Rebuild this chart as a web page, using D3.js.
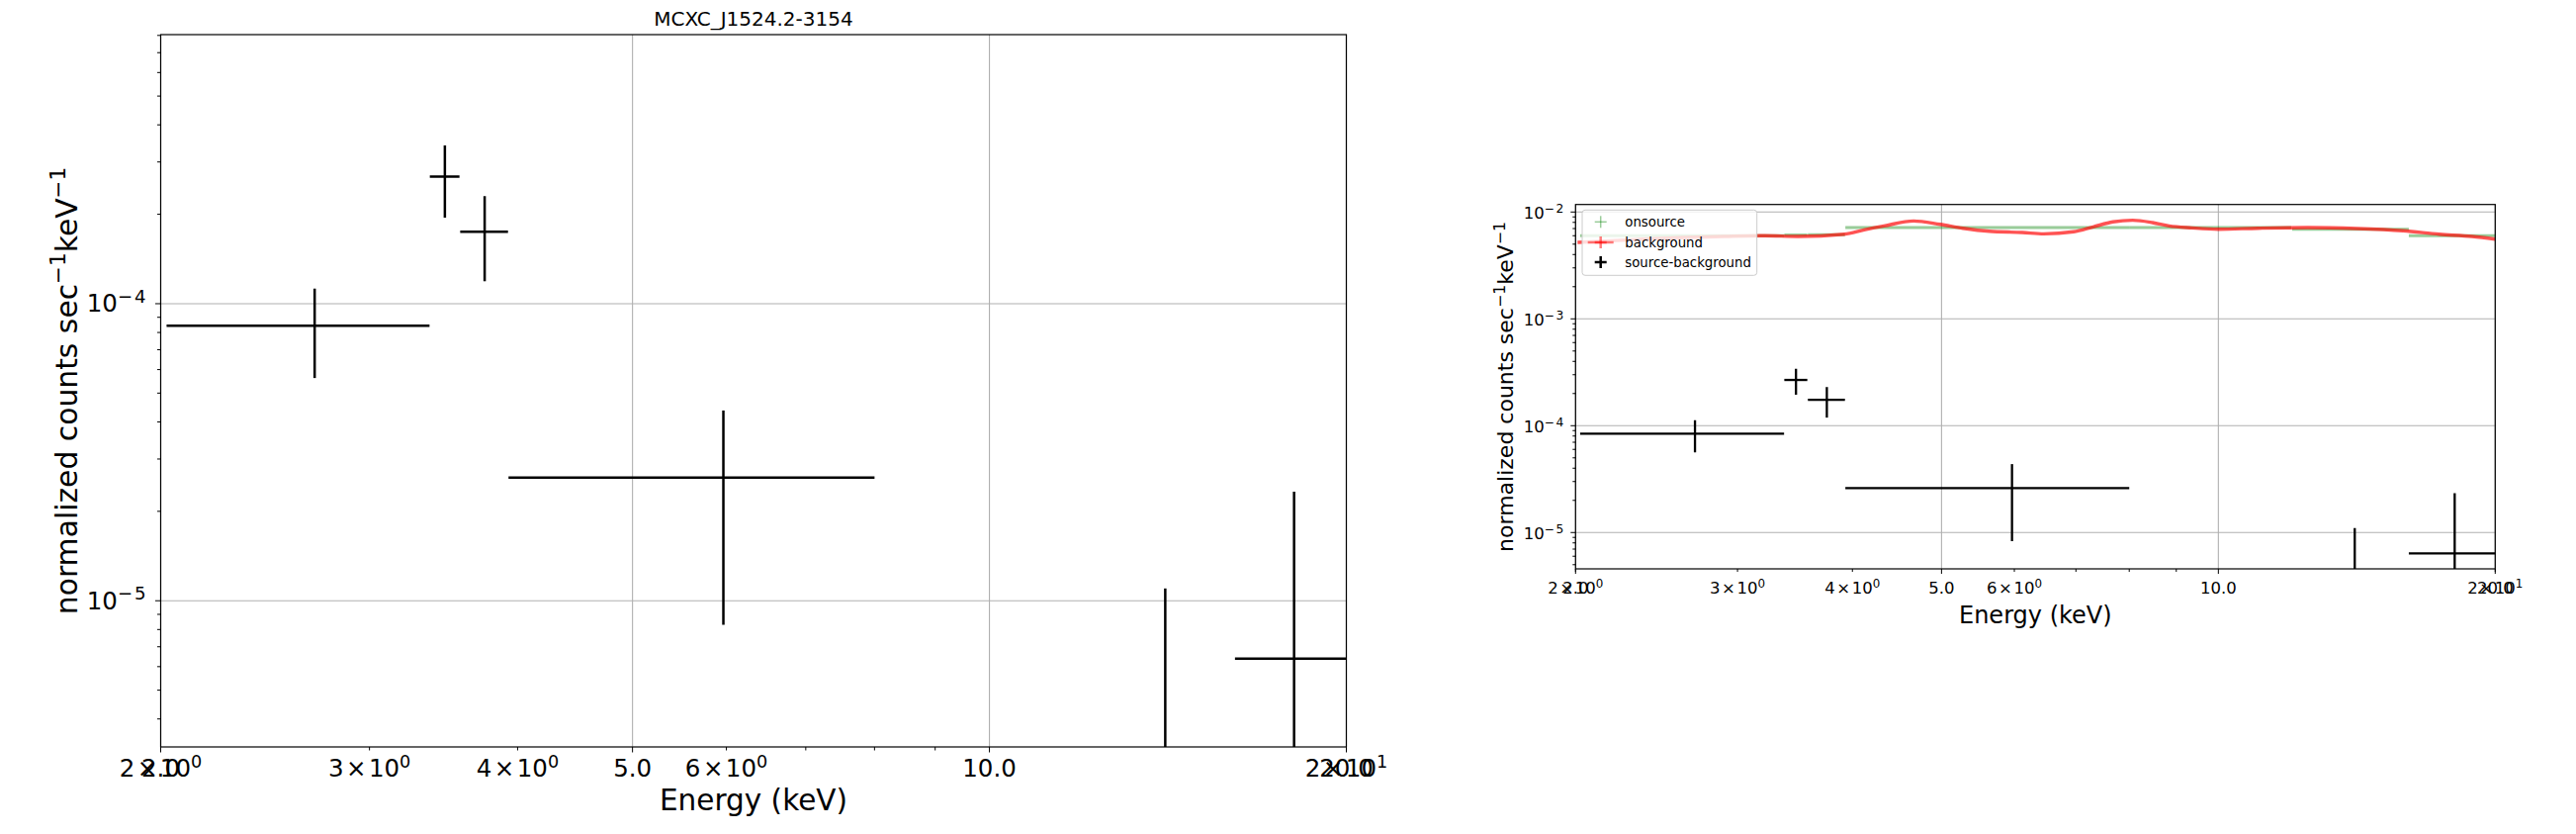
<!DOCTYPE html>
<html><head><meta charset="utf-8">
<script src="https://cdn.jsdelivr.net/npm/d3@7"></script>
<style>
body{margin:0;background:#fff}
svg{display:block}
text{font-family:"DejaVu Sans",sans-serif;fill:#000}
</style>
</head><body>
<svg id="c" width="2605" height="843"></svg>
<script>
// ---------------- data ----------------
const chartTitle = "MCXC_J1524.2-3154";
const xLabel = "Energy (keV)";

// source - background (black)
const energy    = [2.697, 3.473, 3.752, 5.965, 14.07, 18.07];
const energyErr = [0.674, 0.100, 0.174, 2.035, 2.04, 1.96];
const rate      = [8.43e-5, 2.68e-4, 1.745e-4, 2.60e-5, -3.5e-6, 6.39e-6];
const rateErr   = [2.81e-5, 7.3e-5, 5.55e-5, 1.77e-5, 1.45e-5, 1.69e-5];

// onsource (green)
const onEnergy    = [2.697, 3.473, 3.752, 5.965, 10.0, 14.07, 18.07];
const onEnergyErr = [0.674, 0.100, 0.174, 2.035, 2.0, 2.04, 1.96];
const onRate      = [6.0e-3, 6.1e-3, 6.12e-3, 7.15e-3, 7.15e-3, 6.9e-3, 6.0e-3];

// background (red)
const bgEnergy = [2.01, 2.3, 2.6, 2.9, 3.215, 3.489, 3.919, 4.119, 4.329, 4.663, 4.98, 5.275, 5.636,
                  6.12, 6.46, 6.96, 7.31, 7.68, 8.07, 8.48, 8.84, 9.36, 10.0, 11.04, 12.5, 14.14,
                  15.88, 17.39, 18.88, 20.0];
const bgRate   = [5.2e-3, 5.5e-3, 5.75e-3, 5.9e-3, 6.0e-3, 5.9e-3, 6.2e-3, 6.8e-3, 7.4e-3, 8.25e-3,
                  7.67e-3, 7.05e-3, 6.6e-3, 6.43e-3, 6.25e-3, 6.53e-3, 7.26e-3, 8.08e-3, 8.37e-3,
                  7.96e-3, 7.4e-3, 7.1e-3, 6.9e-3, 7.05e-3, 7.15e-3, 7.0e-3, 6.67e-3, 6.2e-3,
                  5.9e-3, 5.57e-3];

// ticks
const xMajorTicks  = [2.0, 5.0, 10.0, 20.0];
const xMajorLabels = ["2.0", "5.0", "10.0", "20.0"];
const xMinorTicks  = [2, 3, 4, 6, 7, 8, 9, 20];
const xMinorMant   = ["2", "3", "4", "6", null, null, null, "2"];
const xMinorExp    = ["0", "0", "0", "0", null, null, null, "1"];
const yMajorLeft   = [1e-5, 1e-4];
const yExpLeft     = ["\u22125", "\u22124"];
const yMajorRight  = [1e-5, 1e-4, 1e-3, 1e-2];
const yExpRight    = ["\u22125", "\u22124", "\u22123", "\u22122"];
const legendNames  = ["onsource", "background", "source-background"];

// ---------------- drawing ----------------
const svg = d3.select("#c");
svg.append("rect").attr("width", 2605).attr("height", 843).attr("fill", "#fff");

function drawPanel(cfg, id) {
  const x = d3.scaleLog().domain([2, 20]).range([cfg.x0, cfg.x1]);
  const y = d3.scaleLog().domain(cfg.yDomain).range([cfg.y1, cfg.y0]);
  const g = svg.append("g");
  const clipId = "clip" + id;
  g.append("clipPath").attr("id", clipId).append("rect")
    .attr("x", cfg.x0).attr("y", cfg.y0).attr("width", cfg.x1 - cfg.x0).attr("height", cfg.y1 - cfg.y0);

  // grid
  const grid = g.append("g").attr("stroke", "#b0b0b0").attr("stroke-width", 1.1);
  xMajorTicks.forEach(t => grid.append("line").attr("x1", x(t)).attr("x2", x(t)).attr("y1", cfg.y0).attr("y2", cfg.y1));
  cfg.yMajor.forEach(t => grid.append("line").attr("x1", cfg.x0).attr("x2", cfg.x1).attr("y1", y(t)).attr("y2", y(t)));

  const data = g.append("g").attr("clip-path", `url(#${clipId})`);
  const below = cfg.y1 + 20;

  if (cfg.showBg) {
    // onsource (green)
    const on = data.append("g").attr("stroke", "#008000").attr("stroke-opacity", 0.4).attr("stroke-width", 3);
    onEnergy.forEach((e, i) => {
      on.append("line").attr("x1", x(e - onEnergyErr[i])).attr("x2", x(e + onEnergyErr[i]))
        .attr("y1", y(onRate[i])).attr("y2", y(onRate[i]));
    });
    // background (red)
    const pts = bgEnergy.map((e, i) => [x(e), y(bgRate[i])]);
    data.append("path").attr("d", d3.line().curve(d3.curveMonotoneX)(pts))
      .attr("fill", "none").attr("stroke", "#ff0000").attr("stroke-opacity", 0.68).attr("stroke-width", 3.4);
  }

  // source-background (black)
  const sb = data.append("g").attr("stroke", "#000").attr("stroke-width", cfg.lw);
  energy.forEach((e, i) => {
    const r = rate[i], er = rateErr[i];
    if (r > 0) {
      sb.append("line").attr("x1", x(e - energyErr[i])).attr("x2", x(e + energyErr[i]))
        .attr("y1", y(r)).attr("y2", y(r));
    }
    const hi = r + er, lo = r - er;
    if (hi > 0) {
      sb.append("line").attr("x1", x(e)).attr("x2", x(e))
        .attr("y1", lo > 0 ? y(lo) : below).attr("y2", y(hi));
    }
  });

  // ticks
  const tk = g.append("g").attr("stroke", "#000").attr("stroke-width", 1);
  xMajorTicks.forEach(t => tk.append("line").attr("x1", x(t)).attr("x2", x(t)).attr("y1", cfg.y1).attr("y2", cfg.y1 + cfg.majorLen));
  xMinorTicks.forEach(t => tk.append("line").attr("x1", x(t)).attr("x2", x(t)).attr("y1", cfg.y1).attr("y2", cfg.y1 + cfg.minorLen));
  cfg.yMajor.forEach(t => tk.append("line").attr("x1", cfg.x0 - cfg.majorLen).attr("x2", cfg.x0).attr("y1", y(t)).attr("y2", y(t)));
  y.ticks().filter(t => Math.abs(Math.log10(t) - Math.round(Math.log10(t))) > 1e-6)
    .forEach(t => tk.append("line").attr("x1", cfg.x0 - cfg.minorLen).attr("x2", cfg.x0).attr("y1", y(t)).attr("y2", y(t)));

  const fs = cfg.tickFs;
  // x tick labels
  xMajorTicks.forEach((t, i) => {
    g.append("text").attr("x", x(t)).attr("y", cfg.xTickBase).attr("text-anchor", "middle")
      .attr("font-size", fs).text(xMajorLabels[i]);
  });
  xMinorTicks.forEach((t, i) => {
    if (!xMinorMant[i]) return;
    const tx = g.append("text").attr("x", x(t)).attr("y", cfg.xTickBase).attr("text-anchor", "middle").attr("font-size", fs);
    tx.append("tspan").text(xMinorMant[i] + "\u200A\u00D7\u200A10");
    tx.append("tspan").attr("font-size", fs * 0.72).attr("dy", -0.37 * fs).text(xMinorExp[i]);
  });
  // y tick labels
  cfg.yMajor.forEach((t, i) => {
    const tx = g.append("text").attr("x", cfg.yTickEnd).attr("y", y(t) + cfg.yTickDy).attr("text-anchor", "end").attr("font-size", fs);
    tx.append("tspan").text("10");
    tx.append("tspan").attr("font-size", fs * 0.74).attr("dy", -0.37 * fs).attr("letter-spacing", 0.08 * fs).text(cfg.yExp[i]);
  });

  // axis labels
  g.append("text").attr("x", (cfg.x0 + cfg.x1) / 2).attr("y", cfg.xlabBase).attr("text-anchor", "middle")
    .attr("font-size", cfg.xlabFs).text(xLabel);
  const yl = g.append("text").attr("text-anchor", "middle").attr("font-size", cfg.ylabFs)
    .attr("transform", `translate(${cfg.ylabX},${(cfg.y0 + cfg.y1) / 2}) rotate(-90)`);
  const lf = cfg.ylabFs;
  yl.append("tspan").text("normalized counts sec");
  yl.append("tspan").attr("font-size", lf * 0.72).attr("dy", -0.38 * lf).text("\u22121");
  yl.append("tspan").attr("dy", 0.38 * lf).text("keV");
  yl.append("tspan").attr("font-size", lf * 0.72).attr("dy", -0.38 * lf).text("\u22121");

  // spines
  g.append("rect").attr("x", cfg.x0).attr("y", cfg.y0).attr("width", cfg.x1 - cfg.x0).attr("height", cfg.y1 - cfg.y0)
    .attr("fill", "none").attr("stroke", "#000").attr("stroke-width", 1.2);

  if (cfg.title) {
    g.append("text").attr("x", (cfg.x0 + cfg.x1) / 2).attr("y", cfg.titleBase).attr("text-anchor", "middle")
      .attr("font-size", 20).text(cfg.title);
  }

  if (cfg.showBg) {
    const L = cfg.legend;
    const lg = g.append("g");
    lg.append("rect").attr("x", L.x).attr("y", L.y).attr("width", L.w).attr("height", L.h).attr("rx", 3)
      .attr("fill", "#fff").attr("fill-opacity", 0.8).attr("stroke", "#cccccc").attr("stroke-width", 1);
    const cols = [["#008000", 0.4, 1.5], ["#ff0000", 0.5, 2.5], ["#000", 1, 2.5]];
    legendNames.forEach((name, i) => {
      const cy = L.y + L.rowY[i];
      const hs = lg.append("g").attr("stroke", cols[i][0]).attr("stroke-opacity", cols[i][1]).attr("stroke-width", cols[i][2]);
      if (i === 1) {
        hs.append("line").attr("x1", L.hx - 13).attr("x2", L.hx + 13).attr("y1", cy).attr("y2", cy);
      }
      hs.append("line").attr("x1", L.hx - 6).attr("x2", L.hx + 6).attr("y1", cy).attr("y2", cy);
      hs.append("line").attr("x1", L.hx).attr("x2", L.hx).attr("y1", cy - 6).attr("y2", cy + 6);
      lg.append("text").attr("x", L.tx).attr("y", cy + 4.7).attr("font-size", 13.3).text(name);
    });
  }
}

drawPanel({
  x0: 162.5, x1: 1361.5, y0: 35, y1: 755, yDomain: [3.22e-6, 8.05e-4],
  yMajor: yMajorLeft, yExp: yExpLeft,
  tickFs: 24.5, xTickBase: 785, yTickEnd: 149.5, yTickDy: 8.3,
  xlabFs: 29.5, xlabBase: 819, ylabFs: 29.8, ylabX: 77.5,
  majorLen: 5.5, minorLen: 3.5, lw: 2.5, showBg: false,
  title: chartTitle, titleBase: 25.5
}, "L");

drawPanel({
  x0: 1593.3, x1: 2523.3, y0: 206.7, y1: 575, yDomain: [4.57e-6, 1.176e-2],
  yMajor: yMajorRight, yExp: yExpRight,
  tickFs: 16.5, xTickBase: 600, yTickEnd: 1582.5, yTickDy: 7,
  xlabFs: 24, xlabBase: 630, ylabFs: 22, ylabX: 1530,
  majorLen: 5, minorLen: 3, lw: 2.3, showBg: true,
  legend: { x: 1600, y: 212.3, w: 176.7, h: 66, rowY: [12, 32.7, 52.7], hx: 1618.7, tx: 1643.3 }
}, "R");
</script>
</body></html>
